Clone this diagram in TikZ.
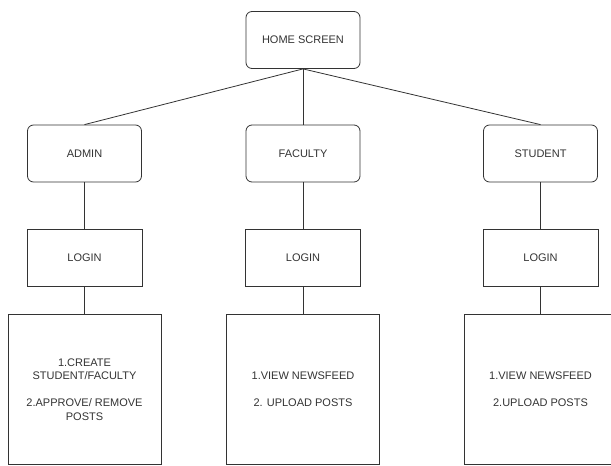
\documentclass[tikz,border=0pt]{standalone}
\usepackage{fontspec}
\setmainfont{Liberation Sans}
\usetikzlibrary{positioning}

\begin{document}
\begin{tikzpicture}[
    x=1pt, y=-1pt,
    role/.style={draw=black!80, line width=0.8pt, rounded corners=6pt, minimum width=114pt, minimum height=57pt, inner sep=0pt, align=center, font=\fontsize{11}{13.5}\selectfont, text=black!80},
    loginbox/.style={draw=black!80, line width=0.8pt, minimum width=115pt, minimum height=57pt, inner sep=0pt, align=center, font=\fontsize{11}{13.5}\selectfont, text=black!80},
    task/.style={draw=black!80, line width=0.8pt, minimum width=153pt, minimum height=150pt, inner sep=0pt, align=center, font=\fontsize{11}{13.5}\selectfont, text=black!80},
    link/.style={draw=black!80, line width=0.8pt},
  ]
    \useasboundingbox (0,0) rectangle (611,466);
    % ===== top =====
    \node[role] (home) at (303, 40) {HOME SCREEN};
    % ===== roles =====
    \node[role] (admin)   at (84.5, 153.5)  {ADMIN};
    \node[role] (faculty) at (303, 153.5)   {FACULTY};
    \node[role] (student) at (540.5, 153.5) {STUDENT};
    % ===== logins =====
    \node[loginbox] (loginA) at (84.5, 257.5)  {LOGIN};
    \node[loginbox] (loginF) at (303, 257.5)   {LOGIN};
    \node[loginbox] (loginS) at (540.5, 257.5) {LOGIN};
    % ===== tasks =====
    \node[task] (taskA) at (84.5, 389.5)  {1.CREATE\\STUDENT/FACULTY\\[13.5pt]2.APPROVE/ REMOVE\\POSTS};
    \node[task] (taskF) at (303, 389.5)   {1.VIEW NEWSFEED\\[13.5pt]2. UPLOAD POSTS};
    \node[task] (taskS) at (540.5, 389.5) {1.VIEW NEWSFEED\\[13.5pt]2.UPLOAD POSTS};

    % ===== links =====
    \draw[link] (home.south) -- (admin.north);
    \draw[link] (home.south) -- (faculty.north);
    \draw[link] (home.south) -- (student.north);
    \draw[link] (admin) -- (loginA);
    \draw[link] (faculty) -- (loginF);
    \draw[link] (student) -- (loginS);
    \draw[link] (loginA) -- (taskA);
    \draw[link] (loginF) -- (taskF);
    \draw[link] (loginS) -- (taskS);
  \end{tikzpicture}
\end{document}
